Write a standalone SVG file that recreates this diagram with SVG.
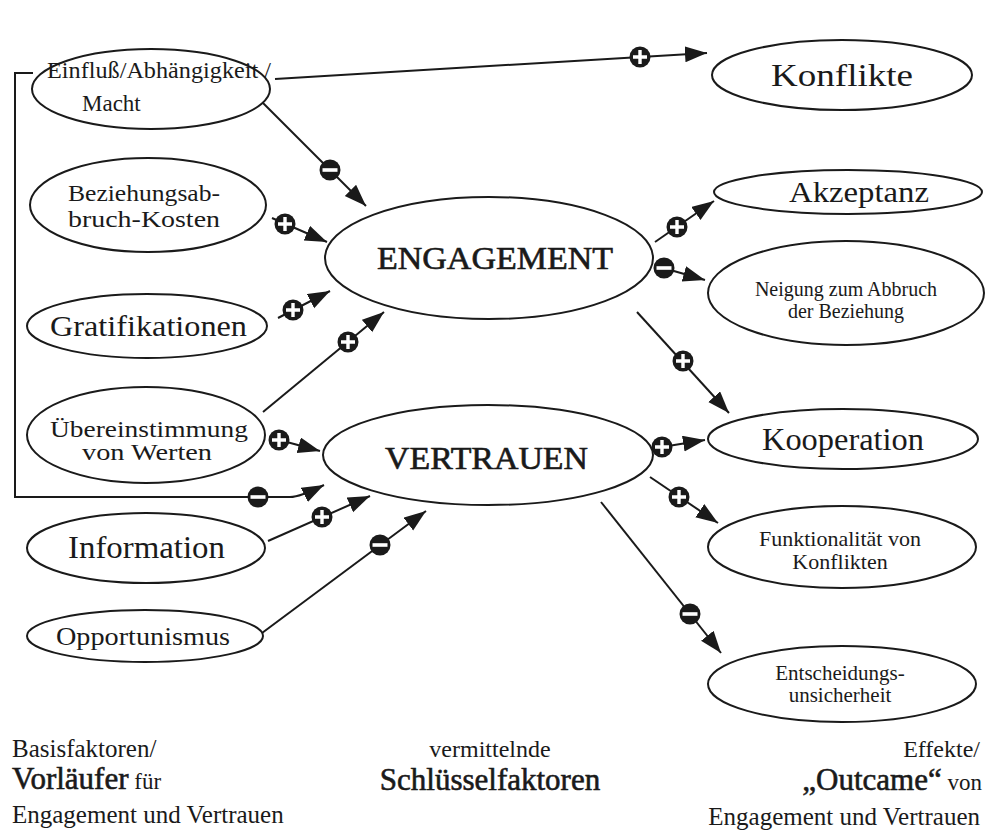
<svg xmlns="http://www.w3.org/2000/svg" xmlns:xlink="http://www.w3.org/1999/xlink" width="989" height="834" viewBox="0 0 989 834">
<style>
.n ellipse{fill:#fff;stroke:#1a1a1a;stroke-width:2}
text{font-family:"Liberation Serif","Times New Roman",serif;fill:#1a1a1a}
.c path{fill:none;stroke:#1a1a1a;stroke-width:2;marker-end:url(#ah)}
.m{text-anchor:middle}
.e{text-anchor:end}
.s{stroke:#1a1a1a;stroke-width:0.6}
</style>
<defs>
<marker id="ah" markerUnits="userSpaceOnUse" markerWidth="24" markerHeight="18" refX="22" refY="8" orient="auto">
<path d="M0,0 L22,8 L0,16 Z" fill="#1a1a1a"/>
</marker>
<g id="plus"><circle r="10.5" fill="#1a1a1a"/><path d="M-7,0 H7 M0,-7 V7" stroke="#fff" stroke-width="3.4"/></g>
<g id="minus"><circle r="10.5" fill="#1a1a1a"/><rect x="-7.5" y="-1.8" width="15" height="3.6" fill="#fff"/></g>
</defs>
<rect width="989" height="834" fill="#fff"/>

<g class="c" id="connectors">
<path d="M275,79 L707,53"/>
<path d="M263,103 L366,206"/>
<path d="M272,218 L327,242"/>
<path d="M278,318 L330,291"/>
<path d="M263,412 L384,312"/>
<path d="M272,438 L320,451"/>
<path d="M33,73 H15 V497 H290 Q300,497 324,485"/>
<path d="M268,541 L370,496"/>
<path d="M262,633 L426,511"/>
<path d="M655,242 L714,201"/>
<path d="M660,267 L705,280"/>
<path d="M637,312 L729,413"/>
<path d="M662,447 L705,440"/>
<path d="M650,477 L718,523"/>
<path d="M601,502 L721,653"/>
</g>
<g id="signs">
<use xlink:href="#plus" x="640" y="57"/>
<use xlink:href="#minus" x="330" y="170"/>
<use xlink:href="#plus" x="285" y="224"/>
<use xlink:href="#plus" x="293" y="310"/>
<use xlink:href="#plus" x="348" y="342"/>
<use xlink:href="#plus" x="279" y="440"/>
<use xlink:href="#minus" x="258" y="497"/>
<use xlink:href="#plus" x="322" y="517"/>
<use xlink:href="#minus" x="380" y="545"/>
<use xlink:href="#plus" x="677" y="227"/>
<use xlink:href="#minus" x="664" y="268"/>
<use xlink:href="#plus" x="683" y="361"/>
<use xlink:href="#plus" x="662" y="447"/>
<use xlink:href="#plus" x="679" y="497"/>
<use xlink:href="#minus" x="690" y="614"/>
</g>

<g class="n" id="einfluss">
<ellipse cx="151" cy="89" rx="119" ry="40"/>
<text x="47" y="78" font-size="23" textLength="224" lengthAdjust="spacingAndGlyphs">Einfluß/Abhängigkeit /</text>
<text x="82" y="111" font-size="23">Macht</text>
</g>
<g class="n" id="beziehungsabbruch">
<ellipse cx="148" cy="205" rx="118" ry="47"/>
<text x="68" y="201" font-size="24" textLength="152" lengthAdjust="spacingAndGlyphs">Beziehungsab-</text>
<text x="68" y="227" font-size="24" textLength="152" lengthAdjust="spacingAndGlyphs">bruch-Kosten</text>
</g>
<g class="n" id="gratifikationen">
<ellipse cx="147" cy="326" rx="120" ry="32"/>
<text x="50" y="336" font-size="30" textLength="197" lengthAdjust="spacingAndGlyphs">Gratifikationen</text>
</g>
<g class="n" id="uebereinstimmung">
<ellipse cx="146" cy="435" rx="119" ry="48"/>
<text x="50" y="437" font-size="23" textLength="198" lengthAdjust="spacingAndGlyphs">Übereinstimmung</text>
<text x="82" y="460" font-size="23" textLength="130" lengthAdjust="spacingAndGlyphs">von Werten</text>
</g>
<g class="n" id="information">
<ellipse cx="146" cy="548" rx="119" ry="35"/>
<text x="68" y="558" font-size="31" textLength="157" lengthAdjust="spacingAndGlyphs">Information</text>
</g>
<g class="n" id="opportunismus">
<ellipse cx="145" cy="636" rx="118" ry="26"/>
<text x="56" y="645" font-size="25" textLength="174" lengthAdjust="spacingAndGlyphs">Opportunismus</text>
</g>
<g class="n" id="engagement">
<ellipse cx="489" cy="258" rx="164" ry="61"/>
<text class="s" x="377" y="269" font-size="31" textLength="236" lengthAdjust="spacingAndGlyphs">ENGAGEMENT</text>
</g>
<g class="n" id="vertrauen">
<ellipse cx="488" cy="455" rx="165" ry="50"/>
<text class="s" x="385" y="469" font-size="31" textLength="203" lengthAdjust="spacingAndGlyphs">VERTRAUEN</text>
</g>
<g class="n" id="konflikte">
<ellipse cx="842" cy="75" rx="130" ry="35"/>
<text class="m" x="842" y="86" font-size="31" textLength="142" lengthAdjust="spacingAndGlyphs">Konflikte</text>
</g>
<g class="n" id="akzeptanz">
<ellipse cx="848" cy="192" rx="134" ry="22"/>
<text class="m" x="859" y="202" font-size="29" textLength="140" lengthAdjust="spacingAndGlyphs">Akzeptanz</text>
</g>
<g class="n" id="neigung">
<ellipse cx="846" cy="293" rx="138" ry="52"/>
<text class="m" x="846" y="296" font-size="20">Neigung zum Abbruch</text>
<text class="m" x="846" y="318" font-size="20">der Beziehung</text>
</g>
<g class="n" id="kooperation">
<ellipse cx="843" cy="439" rx="135" ry="30"/>
<text class="m" x="843" y="450" font-size="31" textLength="162" lengthAdjust="spacingAndGlyphs">Kooperation</text>
</g>
<g class="n" id="funktionalitaet">
<ellipse cx="842" cy="547" rx="134" ry="41"/>
<text class="m" x="840" y="546" font-size="22">Funktionalität von</text>
<text class="m" x="840" y="569" font-size="22">Konflikten</text>
</g>
<g class="n" id="entscheidung">
<ellipse cx="842" cy="684" rx="134" ry="38"/>
<text class="m" x="840" y="680" font-size="21">Entscheidungs-</text>
<text class="m" x="840" y="702" font-size="21">unsicherheit</text>
</g>

<g id="legend">
<text x="12" y="757" font-size="25">Basisfaktoren/</text>
<text x="12" y="789" font-size="31"><tspan class="s">Vorläufer</tspan><tspan font-size="23"> für</tspan></text>
<text x="12" y="823" font-size="25">Engagement und Vertrauen</text>
<text class="m" x="490" y="757" font-size="24">vermittelnde</text>
<text class="m s" x="490" y="790" font-size="31">Schlüsselfaktoren</text>
<text class="e" x="980" y="757" font-size="24">Effekte/</text>
<text class="e" x="982" y="790" font-size="31"><tspan class="s">„Outcame“</tspan><tspan font-size="23"> von</tspan></text>
<text class="e" x="980" y="825" font-size="25">Engagement und Vertrauen</text>
</g>
</svg>
